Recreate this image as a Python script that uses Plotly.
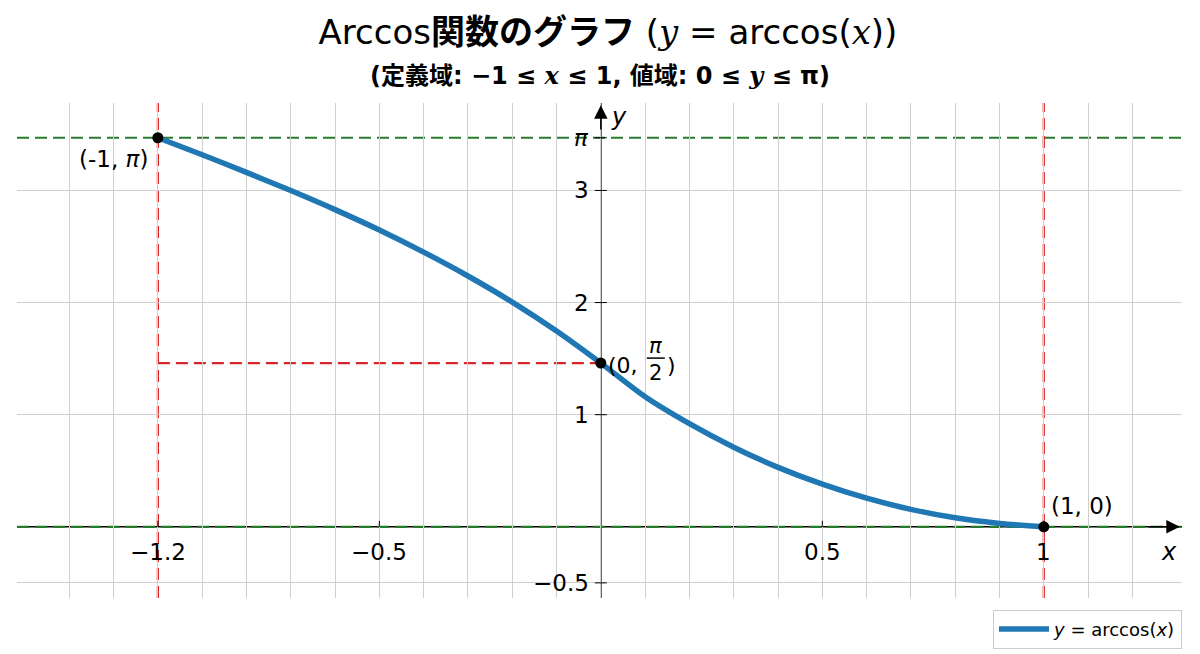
import numpy as np
import plotly.graph_objects as go

# curve (picture's own y units)
x_vals = [-1.0, -0.9, -0.8, -0.7, -0.6, -0.5, -0.4, -0.3, -0.2, -0.1, 0.0,
          0.1, 0.2, 0.3, 0.4, 0.5, 0.6, 0.7, 0.8, 0.9, 1.0]
y_vals = [3.47, 3.318, 3.161, 2.999, 2.829, 2.647, 2.45, 2.237, 2.004, 1.746, 1.46,
          1.16, 0.92, 0.71, 0.53, 0.38, 0.255, 0.155, 0.08, 0.03, 0.0]

# marked points
pt_x = [-1.0, 0.0, 1.0]
pt_y = [3.47, 1.46, 0.0]

x_tick_pos = [-1.0, -0.5, 0.5, 1.0]
x_tick_text = ["\u22121.2", "\u22120.5", "0.5", "1"]
y_tick_pos = [3.47, 3, 2, 1, -0.5]
y_tick_text = ["<i>\u03c0</i>", "3", "2", "1", "\u22120.5"]

grid_x = np.round(np.arange(-12, 13) / 10, 1)
grid_y = [-0.5, 1, 2, 3]

XR = [-1.318, 1.312]
YR = [-0.635, 3.78]

FONT = "DejaVu Sans, Noto Sans CJK JP, sans-serif"
BLUE = "#1f77b4"
RED = "#d62728"
GREEN = "#2a7a2e"
DASH = "12px,6px"


def it(s):
    return f"<span style='font-family:DejaVu Serif'><i>{s}</i></span>"


fig = go.Figure()

fig.add_trace(go.Scatter(x=x_vals, y=y_vals, mode="lines",
                         line=dict(color=BLUE, width=5.5, shape="spline", smoothing=0.8),
                         name="<i>y</i> = arccos(<i>x</i>)"))
fig.add_trace(go.Scatter(x=pt_x, y=pt_y, mode="markers", marker=dict(color="black", size=11),
                         showlegend=False, hoverinfo="skip"))

shapes = []
# axis lines
shapes.append(dict(type="line", xref="paper", x0=0, x1=1, yref="y", y0=0, y1=0,
                   line=dict(color="black", width=1.5), layer="below"))
shapes.append(dict(type="line", xref="x", x0=0, x1=0, yref="paper", y0=0, y1=1,
                   line=dict(color="black", width=1.5), layer="below"))
# reference dashed lines
for yv in [pt_y[0], pt_y[2]]:
    shapes.append(dict(type="line", xref="paper", x0=0, x1=1, yref="y", y0=yv, y1=yv,
                       line=dict(color=GREEN, width=2.2, dash=DASH), layer="below"))
for xv in [pt_x[0], pt_x[2]]:
    shapes.append(dict(type="line", xref="x", x0=xv, x1=xv, yref="paper", y0=0, y1=1,
                       line=dict(color=RED, width=2.2, dash=DASH), layer="below"))
shapes.append(dict(type="line", xref="x", x0=pt_x[0], x1=pt_x[1], yref="y", y0=pt_y[1], y1=pt_y[1],
                   line=dict(color=RED, width=2.2, dash=DASH), layer="below"))
# tick marks on the axes
for xv in x_tick_pos:
    shapes.append(dict(type="line", xref="x", x0=xv, x1=xv, yref="y", ysizemode="pixel", yanchor=0,
                       y0=0, y1=6, line=dict(color="black", width=1)))
for yv in y_tick_pos:
    shapes.append(dict(type="line", yref="y", y0=yv, y1=yv, xref="x", xsizemode="pixel", xanchor=0,
                       x0=-6, x1=6, line=dict(color="black", width=1)))
# fraction bar of pi/2
shapes.append(dict(type="line", xref="x", xsizemode="pixel", xanchor=pt_x[1], x0=46, x1=64,
                   yref="y", ysizemode="pixel", yanchor=pt_y[1], y0=5, y1=5,
                   line=dict(color="black", width=1.5)))

ann = []
for xv, t in zip(x_tick_pos, x_tick_text):
    ann.append(dict(x=xv, y=0, text=t, showarrow=False, yshift=-25, font=dict(size=23)))
for yv, t in zip(y_tick_pos, y_tick_text):
    ann.append(dict(x=0, y=yv, text=t, showarrow=False, xanchor="right", xshift=-10, font=dict(size=23)))

# arrow heads
ann.append(dict(x=XR[1] - 0.005, y=0, ax=XR[1] - 0.08, ay=0, axref="x", ayref="y", text="",
                showarrow=True, arrowhead=2, arrowsize=1.8, arrowwidth=1.5, arrowcolor="black"))
ann.append(dict(x=0, y=YR[1] - 0.02, ax=0, ay=YR[1] - 0.25, axref="x", ayref="y", text="",
                showarrow=True, arrowhead=2, arrowsize=1.8, arrowwidth=1.5, arrowcolor="black"))
ann.append(dict(x=XR[1], y=0, text="<i>x</i>", showarrow=False, xanchor="right", xshift=-3, yshift=-25,
                font=dict(size=24)))
ann.append(dict(x=0, y=YR[1], text="<i>y</i>", showarrow=False, xanchor="left", xshift=8, yshift=-14,
                font=dict(size=24)))

# point labels
ann.append(dict(x=pt_x[0], y=pt_y[0], text="(-1, <i>\u03c0</i>)", showarrow=False,
                xshift=-44, yshift=-21, font=dict(size=23)))
ann.append(dict(x=pt_x[2], y=pt_y[2], text="(1, 0)", showarrow=False,
                xshift=38, yshift=21, font=dict(size=23)))
ann.append(dict(x=pt_x[1], y=pt_y[1], text="(0,", showarrow=False, xanchor="left",
                xshift=5, yshift=-2, font=dict(size=22)))
ann.append(dict(x=pt_x[1], y=pt_y[1], text="<i>\u03c0</i>", showarrow=False,
                xshift=55, yshift=17, font=dict(size=21)))
ann.append(dict(x=pt_x[1], y=pt_y[1], text="2", showarrow=False,
                xshift=55, yshift=-10, font=dict(size=21)))
ann.append(dict(x=pt_x[1], y=pt_y[1], text=")", showarrow=False, xanchor="left",
                xshift=64, yshift=-2, font=dict(size=22)))

# subtitle
ann.append(dict(xref="paper", yref="paper", x=0.5, y=1, yanchor="middle", yshift=28, showarrow=False,
                text=f"<b>(定義域: \u22121 \u2264 {it('x')} \u2264 1, 値域: 0 \u2264 {it('y')} \u2264 \u03c0)</b>",
                font=dict(size=24)))

fig.update_layout(
    width=1200, height=654,
    margin=dict(l=9, r=26, t=95, b=64),
    paper_bgcolor="white", plot_bgcolor="white",
    font=dict(family=FONT, color="black"),
    title=dict(text=f"Arccos<b>関数のグラフ</b> ({it('y')} = arccos({it('x')}))",
               x=0.5, xanchor="center", y=1 - 24 / 654, yanchor="middle", font=dict(size=34)),
    shapes=shapes, annotations=ann,
    showlegend=True,
    legend=dict(x=1, xanchor="right", y=-0.024, yanchor="top", bordercolor="#cccccc", borderwidth=1,
                bgcolor="white", font=dict(size=18), itemwidth=50),
)
fig.update_xaxes(range=XR, tickmode="array", tickvals=grid_x, showticklabels=False, ticks="",
                 showgrid=True, gridcolor="#cfcfcf", gridwidth=1, zeroline=False, showline=False)
fig.update_yaxes(range=YR, tickmode="array", tickvals=grid_y, showticklabels=False, ticks="",
                 showgrid=True, gridcolor="#cfcfcf", gridwidth=1, zeroline=False, showline=False)

fig.write_html("out.html")
